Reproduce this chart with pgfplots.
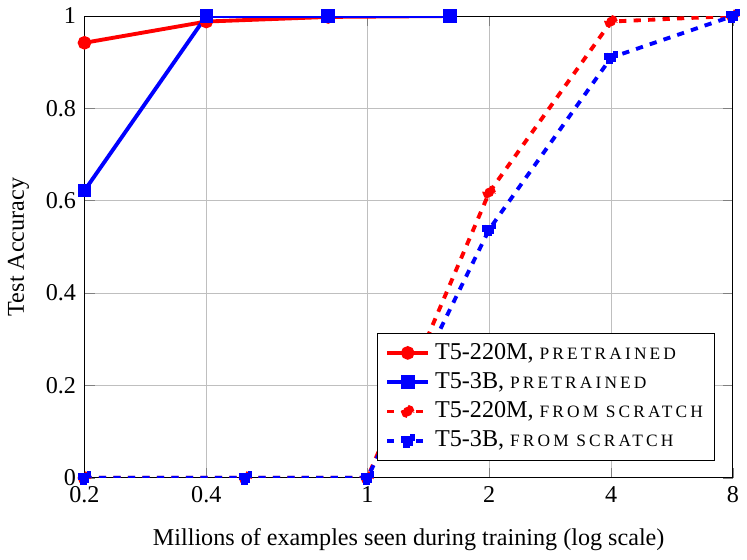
\documentclass[border=0pt]{standalone}
\usepackage{pgfplots}
\pgfplotsset{compat=1.18}
\usepackage[no-math]{fontspec}
\setmainfont{Liberation Serif}
\newfontfamily\scfont[LetterSpace=18]{Liberation Serif}
\newcommand{\fsc}[1]{{\scfont\fontsize{7.2}{8}\selectfont #1}}

\begin{document}
\begin{tikzpicture}
\begin{axis}[
  scale only axis,
  width=268.6pt, height=191.3pt,
  xmode=log,
  xmin=0.2, xmax=8,
  ymin=0, ymax=1,
  xtick={0.2,0.4,1,2,4,8},
  xticklabels={0.2,0.4,1,2,4,8},
  ytick={0,0.2,0.4,0.6,0.8,1},
  yticklabels={0,0.2,0.4,0.6,0.8,1},
  grid=major,
  xlabel={Millions of examples seen during training (log scale)},
  ylabel={Test Accuracy},
  xlabel style={yshift=-4pt},
  legend style={at={(0.973,0.037)}, anchor=south east, draw=black, font=\normalsize},
  legend cell align=left,
  every axis plot/.append style={line width=1.6pt, mark size=2pt},
]
% pretrained
\addplot[red, mark=*] coordinates {
  (0.2,0.942) (0.4,0.988) (0.8,0.998) (1.6,1.0)
};
\addlegendentry{T5-220M, \fsc{PRETRAINED}}
\addplot[blue, mark=square*] coordinates {
  (0.2,0.622) (0.4,1.0) (0.8,1.0) (1.6,1.0)
};
\addlegendentry{T5-3B, \fsc{PRETRAINED}}
% from scratch
\addplot[red, dashed, mark=*] coordinates {
  (0.2,0) (0.5,0) (1,0) (2,0.618) (4,0.988) (8,1.0)
};
\addlegendentry{T5-220M, \fsc{FROM SCRATCH}}
\addplot[blue, dashed, mark=square*] coordinates {
  (0.2,0) (0.5,0) (1,0) (2,0.538) (4,0.91) (8,1.0)
};
\addlegendentry{T5-3B, \fsc{FROM SCRATCH}}
\end{axis}
\end{tikzpicture}
\end{document}
